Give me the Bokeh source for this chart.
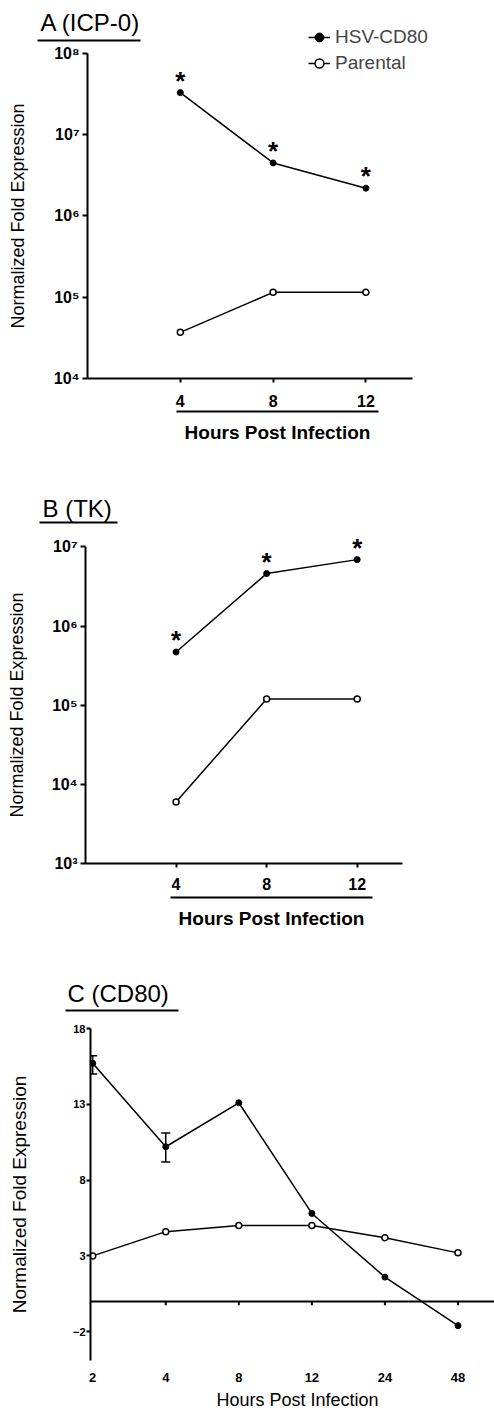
import numpy as np
from bokeh.plotting import figure
from bokeh.models import (Range1d, FixedTicker, CustomJSTickFormatter, Label,
                          BoxAnnotation, Legend, LegendItem, Span, Whisker, TeeHead,
                          ColumnDataSource)
from bokeh.layouts import column
from bokeh.embed import file_html
from bokeh.resources import INLINE
from bokeh.core.properties import value

FONT = "Liberation Sans"

# ---------------- data ----------------
hours_ab = [4, 8, 12]
icp0_hsv = [3.3e7, 4.5e6, 2.2e6]
icp0_par = [3.7e4, 1.15e5, 1.15e5]
icp0_decades = [4, 5, 6, 7, 8]
tk_hsv = [4.7e5, 4.6e6, 6.9e6]
tk_par = [6.0e3, 1.2e5, 1.2e5]
tk_decades = [3, 4, 5, 6, 7]
hours_c = ["2", "4", "8", "12", "24", "48"]
cd80_hsv = [15.7, 10.2, 13.1, 5.8, 1.6, -1.6]
cd80_par = [3.0, 4.6, 5.0, 5.0, 4.2, 3.2]
cd80_err_hours = ["2", "4"]
cd80_err_low = [15.0, 9.2]
cd80_err_high = [16.2, 11.1]
cd80_ticks = [-2, 3, 8, 13, 18]
cd80_baseline = 0
series_names = ["HSV-CD80", "Parental"]
panel_titles = ["A (ICP-0)", "B (TK)", "C (CD80)"]
x_title = "Hours Post Infection"
y_title = "Normalized Fold Expression"

W = 494

SUP = """
const sup = "\u2070\u00b9\u00b2\u00b3\u2074\u2075\u2076\u2077\u2078\u2079";
const e = Math.round(Math.log10(tick));
let out = "";
for (const c of String(e)) { out += (c == "-") ? "\u207b" : sup[Number(c)]; }
return "10" + out;
"""


def style_axes(p, tick_font, xstand, ystand, x_tick_out=4):
    p.xgrid.visible = False
    p.ygrid.visible = False
    p.outline_line_color = None
    for ax in (p.xaxis[0], p.yaxis[0]):
        ax.axis_line_width = 2
        ax.major_tick_in = 0
        ax.major_tick_line_width = 2
        ax.minor_tick_line_color = None
        ax.major_label_text_font = FONT
        ax.major_label_text_font_style = "bold"
        ax.major_label_text_color = "black"
    p.xaxis[0].major_tick_out = x_tick_out
    p.xaxis[0].major_label_standoff = xstand
    p.yaxis[0].major_label_standoff = ystand
    p.xaxis[0].major_label_text_font_size = tick_font[0]
    p.yaxis[0].major_label_text_font_size = tick_font[1]


def header(height, title, tpos, tsize, uline, ylab, ysize, xlab, xsize, xbold, xuline=None):
    """Transparent overlay carrying the panel title, its underline and axis captions."""
    h = figure(width=W, height=height, x_range=Range1d(0, W), y_range=Range1d(height, 0),
               x_axis_location=None, y_axis_location=None, title=None,
               toolbar_location=None, output_backend="svg", min_border=0,
               frame_align=False, background_fill_color=None, border_fill_color=None,
               outline_line_color=None, styles={"margin-top": f"-{height}px"})
    h.xgrid.visible = False
    h.ygrid.visible = False
    h.add_layout(Label(x=tpos[0], y=tpos[1], text=title, text_font=FONT,
                       text_font_size=tsize, text_baseline="middle", text_align="left",
                       text_color="black"))
    h.add_layout(BoxAnnotation(left=uline[0], right=uline[1], top=uline[2] - 1,
                               bottom=uline[2] + 1, fill_color="black", fill_alpha=1.0,
                               line_color=None))
    if xuline is not None:
        h.add_layout(BoxAnnotation(left=xuline[0], right=xuline[1], top=xuline[2] - 1,
                                   bottom=xuline[2] + 1, fill_color="black",
                                   fill_alpha=1.0, line_color=None))
    h.add_layout(Label(x=ylab[0], y=ylab[1], text=y_title, angle=np.pi / 2,
                       text_font=FONT, text_font_size=ysize, text_align="center",
                       text_baseline="middle", text_color="black"))
    h.add_layout(Label(x=xlab[0], y=xlab[1], text=x_title, text_font=FONT,
                       text_font_size=xsize, text_font_style="bold" if xbold else "normal",
                       text_align="center", text_baseline="middle", text_color="black"))
    return h


def series(p, x, hsv, par, stars):
    l1 = p.line(x, hsv, line_color="black", line_width=1.5)
    s1 = p.scatter(x, hsv, size=6, fill_color="black", line_color="black")
    l2 = p.line(x, par, line_color="black", line_width=1.5)
    s2 = p.scatter(x, par, size=6, fill_color="white", line_color="black", line_width=1.5)
    if stars:
        p.text(x, hsv, text=["*"] * len(x), text_font=value(FONT), text_font_size="26px",
               text_font_style="bold", text_align="center", text_baseline="middle",
               y_offset=-12, text_color="black")
    return l1, s1, l2, s2


# ---------------- panel A ----------------
HA = 470
pA = figure(width=W, height=HA, x_range=Range1d(0, 15.3),
            y_range=Range1d(10 ** icp0_decades[0], 10 ** (icp0_decades[-1] + 0.406)),
            y_axis_type="log", title=None, output_backend="svg", toolbar_location=None,
            frame_align=False, min_border_left=87, min_border_right=52,
            min_border_top=20, min_border_bottom=92)
style_axes(pA, ("16px", "16px"), 12, 3)
pA.xaxis[0].ticker = FixedTicker(ticks=hours_ab)
pA.xaxis[0].bounds = (0, 14)
pA.yaxis[0].ticker = FixedTicker(ticks=[10 ** d for d in icp0_decades])
pA.yaxis[0].formatter = CustomJSTickFormatter(code=SUP)
pA.yaxis[0].bounds = (10 ** icp0_decades[0], 10 ** icp0_decades[-1])
pA.yaxis[0].major_tick_out = 5
rA = series(pA, hours_ab, icp0_hsv, icp0_par, True)
pA.add_layout(Legend(items=[LegendItem(label=series_names[0], renderers=[rA[0], rA[1]]),
                            LegendItem(label=series_names[1], renderers=[rA[2], rA[3]])],
                     location=(221, 304), padding=0, margin=0, spacing=4,
                     glyph_width=22, glyph_height=22, label_standoff=5,
                     label_text_font=FONT, label_text_font_size="19px",
                     border_line_color=None, background_fill_alpha=0))
hA = header(HA, panel_titles[0], (40, 22), "24px", (37, 140, 40),
            (17, 215.5), "18px", (277, 432), "19px", True, xuline=(176, 378, 411))

# ---------------- panel B ----------------
HB = 480
pB = figure(width=W, height=HB, x_range=Range1d(0, 14),
            y_range=Range1d(10 ** tk_decades[0], 10 ** (tk_decades[-1] + 0.27)),
            y_axis_type="log", title=None, output_backend="svg", toolbar_location=None,
            frame_align=False, min_border_left=85, min_border_right=92,
            min_border_top=55, min_border_bottom=87)
style_axes(pB, ("16px", "16px"), 10, 3)
pB.xaxis[0].ticker = FixedTicker(ticks=hours_ab)
pB.yaxis[0].ticker = FixedTicker(ticks=[10 ** d for d in tk_decades])
pB.yaxis[0].formatter = CustomJSTickFormatter(code=SUP)
pB.yaxis[0].bounds = (10 ** tk_decades[0], 10 ** tk_decades[-1])
pB.yaxis[0].major_tick_out = 5
series(pB, hours_ab, tk_hsv, tk_par, True)
hB = header(HB, panel_titles[1], (42, 38), "24px", (39, 117, 52),
            (16.5, 234.5), "18px", (271, 448), "19px", True, xuline=(170, 372, 427))

# ---------------- panel C ----------------
HC = 460
pos_c = list(range(len(hours_c)))
pC = figure(width=W, height=HC, x_range=Range1d(-0.03, 5.5),
            y_range=Range1d(-3.9, cd80_ticks[-1]), title=None,
            output_backend="svg", toolbar_location=None, frame_align=False,
            min_border_left=90, min_border_right=0, min_border_top=78, min_border_bottom=50)
style_axes(pC, ("13px", "11px"), 12, 1, x_tick_out=0)
pC.xaxis[0].ticker = FixedTicker(ticks=pos_c)
pC.xaxis[0].formatter = CustomJSTickFormatter(args=dict(labels=hours_c),
                                              code="return labels[Math.round(tick)];")
pC.xaxis[0].axis_line_color = None
pC.xaxis[0].major_tick_line_color = None
pC.yaxis[0].ticker = FixedTicker(ticks=cd80_ticks)
pC.yaxis[0].major_tick_out = 4
pC.add_layout(Span(location=cd80_baseline, dimension="width", line_color="black",
                   line_width=2))
# small tick marks hanging under the zero line at each time point
pC.segment(x0=pos_c[1:], x1=pos_c[1:], y0=[cd80_baseline] * (len(pos_c) - 1),
           y1=[cd80_baseline - 0.25] * (len(pos_c) - 1), line_color="black", line_width=2)
series(pC, pos_c, cd80_hsv, cd80_par, False)
err_src = ColumnDataSource(dict(x=[hours_c.index(h) for h in cd80_err_hours],
                                lo=cd80_err_low, hi=cd80_err_high))
pC.add_layout(Whisker(source=err_src, base="x", lower="lo", upper="hi",
                      line_color="black", line_width=1.5,
                      upper_head=TeeHead(size=9, line_width=1.5, line_color="black"),
                      lower_head=TeeHead(size=9, line_width=1.5, line_color="black")))
hC = header(HC, panel_titles[2], (67, 43), "24px", (65, 178, 60),
            (19, 244), "19px", (297, 449), "18px", False)

layout = column(pA, hA, pB, hB, pC, hC)
with open("out.html", "w", encoding="utf-8") as f:
    f.write(file_html(layout, INLINE))
